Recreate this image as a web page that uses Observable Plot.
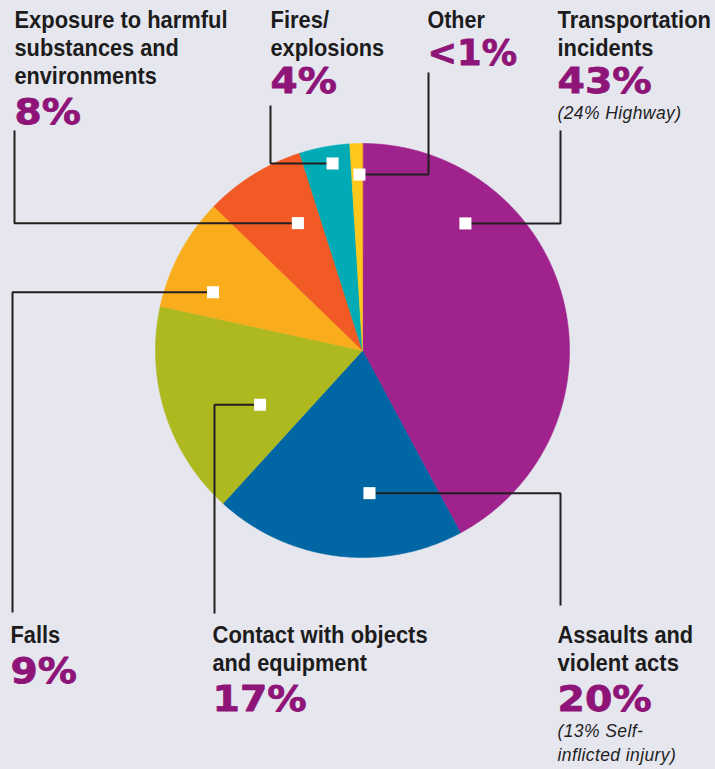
<!DOCTYPE html>
<html><head><meta charset="utf-8">
<script src="https://cdn.jsdelivr.net/npm/d3@7"></script>
<script src="https://cdn.jsdelivr.net/npm/@observablehq/plot@0.6"></script>
<style>
html,body{margin:0;padding:0;background:#E6E6EF;}
#chart{width:715px;height:769px;overflow:hidden;}
</style></head><body><div id="chart"></div>
<script>
// ---- data ----
const categories = ["Transportation incidents", "Assaults and violent acts", "Contact with objects and equipment", "Falls", "Exposure to harmful substances and environments", "Fires/explosions", "Other"];
const shares = [43, 20, 17, 9, 8, 4, 1];
const shareLabels = ["43%", "20%", "17%", "9%", "8%", "4%", "<1%"];
const notes = ["(24% Highway)", "(13% Self-inflicted injury)", "", "", "", "", ""];
const sliceColors = ["#A0228C", "#0067A4", "#AEB81F", "#F9AC1C", "#F15A24", "#00ABB5", "#FFC81A"];

// ---- layout ----
const W = 715, H = 769, CX = 362, CY = 350, R = 207;
const nameLines = [["Transportation", "incidents"], ["Assaults and", "violent acts"], ["Contact with objects", "and equipment"], ["Falls"], ["Exposure to harmful", "substances and", "environments"], ["Fires/", "explosions"], ["Other"]];
const noteLines = [["(24% Highway)"], ["(13% Self-", "inflicted injury)"], [], [], [], [], []];
const labelLayout = [
  {x: 557, y0: 27, pctY: 92, noteY: 118},
  {x: 557, y0: 642, pctY: 710, noteY: 736},
  {x: 212, y0: 642, pctY: 710},
  {x: 10, y0: 642, pctY: 682},
  {x: 14, y0: 27, pctY: 123},
  {x: 270, y0: 27, pctY: 92},
  {x: 427, y0: 27, pctY: 64}
];
const markerLayout = [
  {angle: 39.0, rf: 0.79, elbowX: 560, endY: 130},
  {angle: 177.2, rf: 0.69, elbowX: 560, endY: 605},
  {angle: 242.1, rf: 0.56, elbowX: 214, endY: 613},
  {angle: 291.3, rf: 0.775, elbowX: 12, endY: 612},
  {angle: 333.1, rf: 0.69, elbowX: 14, endY: 130},
  {angle: 350.9, rf: 0.915, elbowX: 270, endY: 105},
  {angle: 359.0, rf: 0.85, elbowX: 428, endY: 72}
];
const NAME_LH = 28, NOTE_LH = 24;
const NAME_SIZE = 24, PCT_SIZE = 36, NOTE_SIZE = 17.5;

// ---- build ----
const arcs = d3.pie().sort(null).value(d => d)(shares);
const slicePts = [];
arcs.forEach((a, i) => {
  slicePts.push({cat: categories[i], color: sliceColors[i], x: CX, y: CY});
  const n = Math.max(2, Math.ceil((a.endAngle - a.startAngle) / 0.004));
  for (let k = 0; k <= n; k++) {
    const t = a.startAngle + (a.endAngle - a.startAngle) * k / n;
    slicePts.push({cat: categories[i], color: sliceColors[i], x: CX + R * Math.sin(t), y: CY - R * Math.cos(t)});
  }
});

const markers = markerLayout.map((m, i) => {
  const t = m.angle * Math.PI / 180;
  return {cat: categories[i], x: CX + R * m.rf * Math.sin(t), y: CY - R * m.rf * Math.cos(t)};
});
const leaders = [];
markers.forEach((m, i) => {
  const L = markerLayout[i];
  leaders.push({cat: m.cat, x: m.x, y: m.y});
  leaders.push({cat: m.cat, x: L.elbowX, y: m.y});
  leaders.push({cat: m.cat, x: L.elbowX, y: L.endY});
});

const nameText = [], pctText = [], noteText = [];
categories.forEach((c, i) => {
  const L = labelLayout[i];
  nameLines[i].forEach((s, k) => nameText.push({x: L.x, y: L.y0 + k * NAME_LH, text: s}));
  pctText.push({x: L.x, y: L.pctY, text: shareLabels[i]});
  noteLines[i].forEach((s, k) => noteText.push({x: L.x, y: L.noteY + k * NOTE_LH, text: s}));
});

const chart = Plot.plot({
  width: W, height: H, margin: 0,
  x: {domain: [0, W], range: [0, W], axis: null},
  y: {domain: [0, H], range: [0, H], axis: null},
  color: {type: "identity"},
  style: {background: "#E6E6EF", overflow: "visible"},
  marks: [
    Plot.line(slicePts, {x: "x", y: "y", z: "cat", fill: "color", stroke: "color", strokeWidth: 0.6, curve: "linear-closed"}),
    Plot.line(leaders, {x: "x", y: "y", z: "cat", stroke: "#231F20", strokeWidth: 2, strokeLinejoin: "miter", strokeLinecap: "butt"}),
    Plot.dot(markers, {x: "x", y: "y", symbol: "square", r: 6.8, fill: "white", stroke: "none"}),
    Plot.text(nameText, {x: "x", y: "y", text: "text", textAnchor: "start", lineAnchor: "bottom", fontSize: NAME_SIZE, fontWeight: "bold", fontFamily: "'Liberation Sans', Arial, sans-serif", fill: "#1C1C1C"}),
    Plot.text(pctText, {x: "x", y: "y", text: "text", textAnchor: "start", lineAnchor: "bottom", fontSize: PCT_SIZE, fontWeight: "bold", fontFamily: "'DejaVu Sans', sans-serif", fill: "#8E1478", stroke: "#8E1478", strokeWidth: 0.8}),
    Plot.text(noteText, {x: "x", y: "y", text: "text", textAnchor: "start", lineAnchor: "bottom", fontSize: NOTE_SIZE, fontStyle: "italic", fontFamily: "'Liberation Sans', Arial, sans-serif", fill: "#222"})
  ]
});
document.getElementById("chart").appendChild(chart);

// typographic adjustments: condensed names, wide percentages
chart.querySelectorAll("text").forEach(el => {
  const fs = parseFloat(getComputedStyle(el).fontSize);
  const w = el.getComputedTextLength();
  const n = el.textContent.length;
  if (Math.abs(fs - NAME_SIZE) < 0.1) {
    el.setAttribute("textLength", (w * 0.82 + 1.2 * (n - 1)).toFixed(1));
    el.setAttribute("lengthAdjust", "spacingAndGlyphs");
  } else if (Math.abs(fs - PCT_SIZE) < 0.1) {
    const f = el.textContent.startsWith("<") ? 0.96 : 1.07;
    el.setAttribute("textLength", (w * f + 1 * (n - 1)).toFixed(1));
    el.setAttribute("lengthAdjust", "spacingAndGlyphs");
  } else if (Math.abs(fs - NOTE_SIZE) < 0.1) {
    el.setAttribute("textLength", (w + 0.4 * (n - 1)).toFixed(1));
    el.setAttribute("lengthAdjust", "spacing");
  }
});
</script>
</body></html>
